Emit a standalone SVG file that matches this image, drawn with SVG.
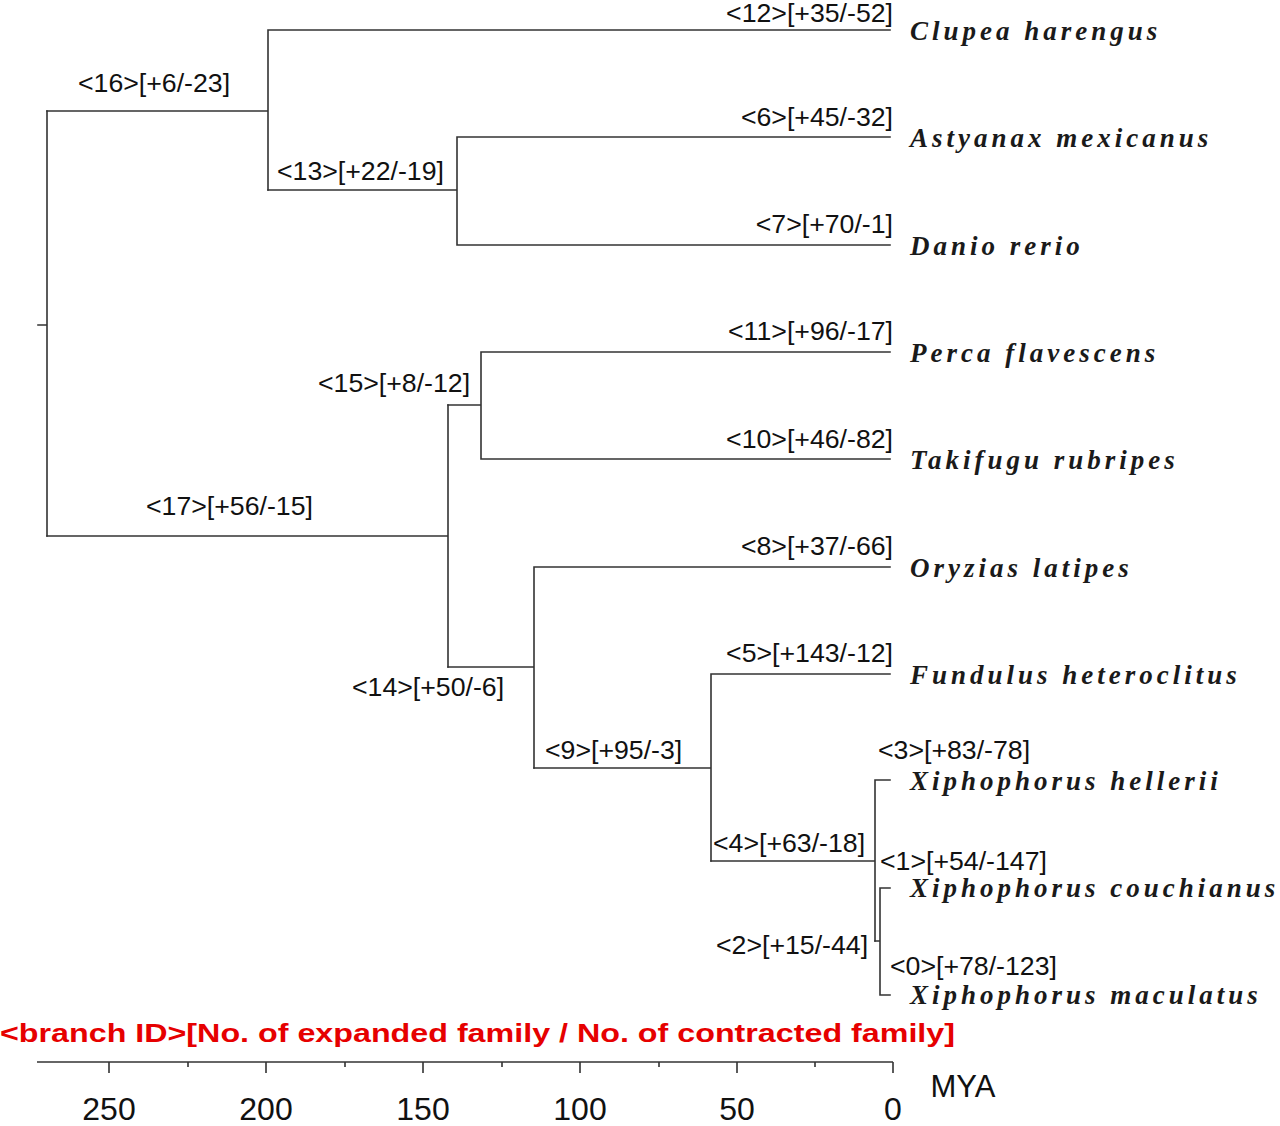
<svg xmlns="http://www.w3.org/2000/svg" width="1280" height="1126" viewBox="0 0 1280 1126">
<style>
.e{fill:none;stroke:#333;stroke-width:1.6;stroke-linecap:square}
.sp{font-family:"Liberation Serif","Times New Roman",serif;font-weight:bold;font-style:italic;font-size:27px;letter-spacing:4px;fill:#1a1a1a}
.bl{font-family:"Liberation Sans",Arial,sans-serif;font-size:26.7px;fill:#111}
.bt{text-anchor:end}
.ax{font-family:"Liberation Sans",Arial,sans-serif;font-size:32px;fill:#111;text-anchor:middle}
.leg{font-family:"Liberation Sans",Arial,sans-serif;font-weight:bold;font-size:26px;fill:#e60000}
.tk{stroke:#333;stroke-width:1.6}
</style>
<rect width="1280" height="1126" fill="#fff"/>
<g id="connectors">
<path class="e" d="M38 325H47M47 111V536"/>
<path class="e" d="M47 111H268M268 30V190M268 30H890"/>
<path class="e" d="M268 190H457M457 137V245M457 137H890M457 245H890"/>
<path class="e" d="M47 536H448M448 405V667"/>
<path class="e" d="M448 405H481M481 352V459M481 352H890M481 459H890"/>
<path class="e" d="M448 667H534M534 567V768M534 567H890"/>
<path class="e" d="M534 768H711M711 674V861M711 674H890"/>
<path class="e" d="M711 861H875M875 780V941M875 780H890"/>
<path class="e" d="M875 941H880M880 888V995M880 888H890M880 995H890"/>
</g>
<g id="node-16"><text class="bl" x="78" y="92">&lt;16&gt;[+6/-23]</text></g>
<g id="node-13"><text class="bl" x="277" y="180">&lt;13&gt;[+22/-19]</text></g>
<g id="node-17"><text class="bl" x="146" y="515">&lt;17&gt;[+56/-15]</text></g>
<g id="node-15"><text class="bl" x="318" y="392">&lt;15&gt;[+8/-12]</text></g>
<g id="node-14"><text class="bl" x="352" y="696">&lt;14&gt;[+50/-6]</text></g>
<g id="node-9"><text class="bl" x="545" y="759">&lt;9&gt;[+95/-3]</text></g>
<g id="node-4"><text class="bl" x="713" y="852">&lt;4&gt;[+63/-18]</text></g>
<g id="node-2"><text class="bl" x="716" y="954">&lt;2&gt;[+15/-44]</text></g>
<g id="leaf-clupea"><text class="bl bt" x="893" y="22">&lt;12&gt;[+35/-52]</text><text class="sp" x="910" y="40">Clupea harengus</text></g>
<g id="leaf-astyanax"><text class="bl bt" x="893" y="126">&lt;6&gt;[+45/-32]</text><text class="sp" x="910" y="147">Astyanax mexicanus</text></g>
<g id="leaf-danio"><text class="bl bt" x="893" y="233">&lt;7&gt;[+70/-1]</text><text class="sp" x="910" y="255">Danio rerio</text></g>
<g id="leaf-perca"><text class="bl bt" x="893" y="340">&lt;11&gt;[+96/-17]</text><text class="sp" x="910" y="362">Perca flavescens</text></g>
<g id="leaf-takifugu"><text class="bl bt" x="893" y="448">&lt;10&gt;[+46/-82]</text><text class="sp" x="910" y="469">Takifugu rubripes</text></g>
<g id="leaf-oryzias"><text class="bl bt" x="893" y="555">&lt;8&gt;[+37/-66]</text><text class="sp" x="910" y="577">Oryzias latipes</text></g>
<g id="leaf-fundulus"><text class="bl bt" x="893" y="662">&lt;5&gt;[+143/-12]</text><text class="sp" x="910" y="684">Fundulus heteroclitus</text></g>
<g id="leaf-hellerii"><text class="bl" x="878" y="759">&lt;3&gt;[+83/-78]</text><text class="sp" x="910" y="790">Xiphophorus hellerii</text></g>
<g id="leaf-couchianus"><text class="bl" x="880" y="870">&lt;1&gt;[+54/-147]</text><text class="sp" x="910" y="897">Xiphophorus couchianus</text></g>
<g id="leaf-maculatus"><text class="bl" x="890" y="975">&lt;0&gt;[+78/-123]</text><text class="sp" x="910" y="1004">Xiphophorus maculatus</text></g>
<g id="legend"><text class="leg" x="0" y="1042" textLength="955" lengthAdjust="spacingAndGlyphs">&lt;branch ID&gt;[No. of expanded family / No. of contracted family]</text></g>
<g id="axis">
<line class="tk" x1="37" y1="1062" x2="893" y2="1062"/>
<path class="tk" d="M109 1062V1073M266 1062V1073M423 1062V1073M580 1062V1073M737 1062V1073M893 1062V1073M188 1062V1067M345 1062V1067M502 1062V1067M659 1062V1067M815 1062V1067"/>
<text class="ax" x="109" y="1120">250</text>
<text class="ax" x="266" y="1120">200</text>
<text class="ax" x="423" y="1120">150</text>
<text class="ax" x="580" y="1120">100</text>
<text class="ax" x="737" y="1120">50</text>
<text class="ax" x="893" y="1120">0</text>
<text class="ax" x="963" y="1097" style="font-size:31px">MYA</text>
</g>
</svg>
